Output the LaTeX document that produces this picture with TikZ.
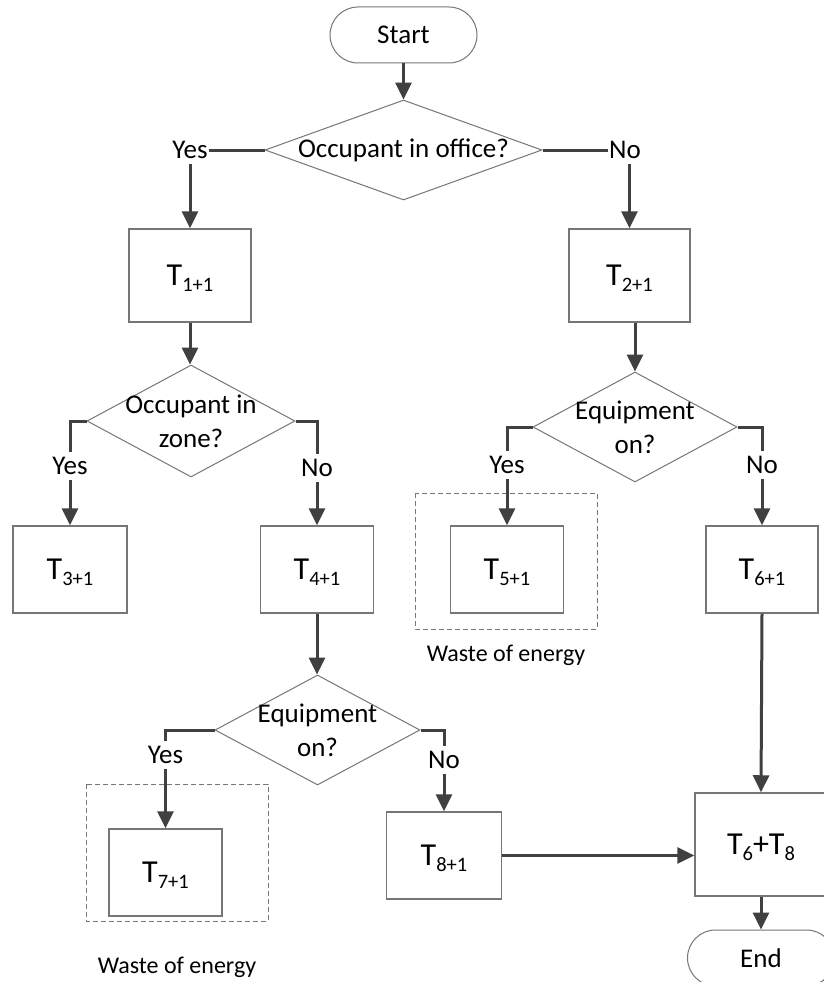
\documentclass[tikz,border=0pt]{standalone}
\usepackage{fontspec}
\setmainfont{Carlito}
\usetikzlibrary{arrows.meta,shapes.geometric,shapes.misc}

\definecolor{arrowgray}{HTML}{404040}
\definecolor{boxgray}{HTML}{767676}

% time variable with a lowered index
\newcommand{\Tvar}[1]{{\fontsize{32}{32}\selectfont T}\raisebox{-6pt}[0pt][0pt]{\fontsize{20.5}{20.5}\selectfont #1}}

\begin{document}
\begin{tikzpicture}[x=1pt,y=-1pt,
  every node/.style={font=\fontsize{27}{34}\selectfont},
  term/.style={draw=boxgray, line width=1pt, rounded rectangle, minimum width=147pt, minimum height=56pt, inner sep=0pt},
  proc/.style={draw=boxgray, line width=1.5pt, rectangle, inner sep=0pt, minimum height=87pt, minimum width=113pt},
  decision/.style={draw=boxgray, line width=1pt, diamond, inner sep=0pt},
  qtext/.style={align=center, inner sep=0pt},
  branch/.style={inner xsep=1pt, inner ysep=5pt},
  arr/.style={draw=arrowgray, line width=3pt, -{Triangle[length=17pt,width=16pt]}},
  flow/.style={draw=arrowgray, line width=3pt},
  zone/.style={draw=boxgray, line width=1pt, dash pattern=on 5pt off 3pt},
  note/.style={font=\fontsize{24}{28}\selectfont, inner sep=0pt}
]
\clip (0,0) rectangle (824,982);
\fill[white] (0,0) rectangle (824,982);

% dashed zones around the energy-wasting states
\draw[zone] (415,493) rectangle (597,629);
\draw[zone] (86,784) rectangle (268,921);

% terminators
\node[term] (start) at (403.5,35) {Start};
\node[term] (end) at (761,958) {End};

% decisions
\node[decision, minimum width=277pt, minimum height=100pt] (d1) at (403.5,150) {};
\node[qtext] (d1t) at (d1) {Occupant in office?};
\node[decision, minimum width=208pt, minimum height=112pt] (d2) at (191,421) {};
\node[qtext] (d2t) at (d2) {Occupant in\\zone?};
\node[decision, minimum width=205pt, minimum height=110pt] (d3) at (317.5,730) {};
\node[qtext] (d3t) at (d3) {Equipment\\on?};
\node[decision, minimum width=204pt, minimum height=110pt] (d4) at (635,427) {};
\node[qtext] (d4t) at (d4) {Equipment\\on?};

% states
\node[proc, minimum width=122pt, minimum height=93pt] (t1) at (190,275.5) {\Tvar{1+1}};
\node[proc, minimum width=121pt, minimum height=93pt] (t2) at (629.5,275.5) {\Tvar{2+1}};
\node[proc, minimum width=114pt] (t3) at (70,569.5) {\Tvar{3+1}};
\node[proc] (t4) at (317,569.5) {\Tvar{4+1}};
\node[proc] (t5) at (507,569.5) {\Tvar{5+1}};
\node[proc, minimum width=112pt] (t6) at (762,569.5) {\Tvar{6+1}};
\node[proc] (t7) at (165.5,872.5) {\Tvar{7+1}};
\node[proc, minimum width=115pt] (t8) at (444,855.5) {\Tvar{8+1}};
\node[proc, minimum width=132pt, minimum height=103pt] (t68) at (761,844.5)
  {\Tvar{6}{\fontsize{32}{32}\selectfont +}\Tvar{8}};

% branch labels
\node[branch] (yes1) at (190,150) {Yes};
\node[branch] (no1) at (625,150) {No};
\node[branch] (yes2) at (70,466) {Yes};
\node[branch] (no2) at (317,468) {No};
\node[branch] (yes3) at (165.5,755) {Yes};
\node[branch] (no3) at (444,760) {No};
\node[branch] (yes4) at (507,465) {Yes};
\node[branch] (no4) at (762,465) {No};

% notes
\node[note, anchor=base] (w5) at (506,661) {Waste of energy};
\node[note, anchor=base] (w7) at (177,973) {Waste of energy};

% connectors
\draw[arr] (start.south) -- (d1.north);
\draw[flow] (d1.west) -- (yes1.east);
\draw[arr] (yes1.south) -- (t1.north);
\draw[flow] (d1.east) -- (no1.west);
\draw[arr] (no1.south -| t2.north) -- (t2.north);

\draw[arr] (t1.south) -- (t1.south |- d2.north);
\draw[flow] (d2.west) -| (yes2.north);
\draw[arr] (yes2.south) -- (t3.north);
\draw[flow] (d2.east) -| (no2.north);
\draw[arr] (no2.south) -- (t4.north);

\draw[arr] (t4.south) -- (t4.south |- d3.north);
\draw[flow] (d3.west) -| (yes3.north);
\draw[arr] (yes3.south) -- (t7.north);
\draw[flow] (d3.east) -| (no3.north);
\draw[arr] (no3.south) -- (t8.north);
\draw[arr] (t8.east) -- (t8.east -| t68.west);

\draw[arr] (t2.south -| d4.north) -- (d4.north);
\draw[flow] (d4.west) -| (yes4.north);
\draw[arr] (yes4.south) -- (t5.north);
\draw[flow] (d4.east) -| (no4.north);
\draw[arr] (no4.south) -- (t6.north);

\draw[arr] (t6.south) -- (t68.north);
\draw[arr] (t68.south) -- (end.north);
\end{tikzpicture}
\end{document}
